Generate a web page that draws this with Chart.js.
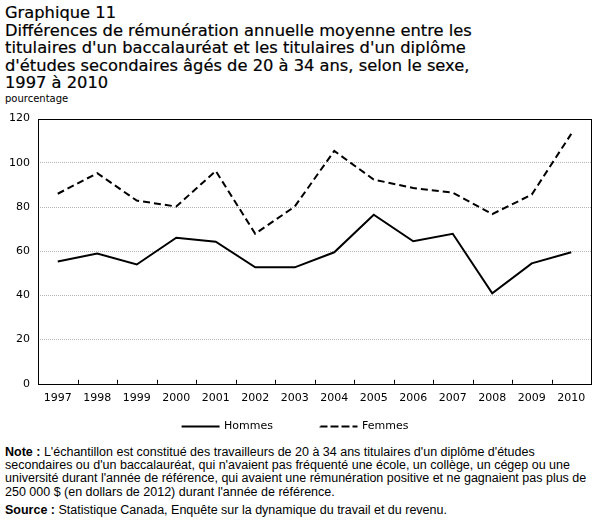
<!DOCTYPE html>
<html lang="fr">
<head>
<meta charset="utf-8">
<script src="https://cdn.jsdelivr.net/npm/chart.js@4"></script>
<style>
    body { margin: 0; background: #fff; width: 607px; height: 531px; position: relative; overflow: hidden; }
    .title { position: absolute; left: 5px; top: 4px; font-family: 'DejaVu Sans', sans-serif; font-size: 16.3px; line-height: 17.5px; color: #000; white-space: nowrap; -webkit-text-stroke: 0.2px #000; }
    .unit { position: absolute; left: 5px; top: 93px; font-family: 'DejaVu Sans', sans-serif; font-size: 10px; color: #000; }
    .chart-box { position: absolute; left: 0; top: 104px; width: 607px; height: 338px; }
    .notes { position: absolute; left: 5px; top: 446px; font-family: 'Liberation Sans', sans-serif; font-size: 12.5px; line-height: 13.2px; color: #000; white-space: nowrap; }
    .notes p { margin: 0 0 5px 0; }
</style>
</head>
<body>

<div class="title">Graphique 11<br>Différences de rémunération annuelle moyenne entre les<br>titulaires d'un baccalauréat et les titulaires d'un diplôme<br>d'études secondaires âgés de 20 à 34 ans, selon le sexe,<br>1997 à 2010</div>
<div class="unit">pourcentage</div>

<div class="chart-box"><canvas id="gapChart"></canvas></div>

<div class="notes">
    <p><b>Note :</b> L'échantillon est constitué des travailleurs de 20 à 34 ans titulaires d'un diplôme d'études<br>secondaires ou d'un baccalauréat, qui n'avaient pas fréquenté une école, un collège, un cégep ou une<br>université durant l'année de référence, qui avaient une rémunération positive et ne gagnaient pas plus de<br>250 000 $ (en dollars de 2012) durant l'année de référence.</p>
    <p><b>Source :</b> Statistique Canada, Enquête sur la dynamique du travail et du revenu.</p>
</div>

<script>
// --- data ---
const years = ['1997', '1998', '1999', '2000', '2001', '2002', '2003', '2004', '2005', '2006', '2007', '2008', '2009', '2010'];
const hommes = [55.3, 58.9, 54.0, 66.1, 64.3, 52.7, 52.7, 59.5, 76.5, 64.5, 67.9, 40.9, 54.5, 59.5];
const femmes = [86.0, 95.3, 82.9, 80.2, 96.3, 67.9, 80.2, 105.4, 92.4, 88.6, 86.5, 76.8, 85.6, 113.1];
const yTicks = [0, 20, 40, 60, 80, 100, 120];

const axisFont = { family: "'DejaVu Sans', sans-serif", size: 11 };

// black frame round the plot + small inward ticks between the years
const frame = {
    id: 'frame',
    afterDatasetsDraw(chart) {
        const { ctx, chartArea: a, scales: { x } } = chart;
        ctx.save();
        ctx.strokeStyle = '#000';
        ctx.lineWidth = 1;
        ctx.strokeRect(Math.round(a.left) + 0.5, Math.round(a.top) + 0.5, Math.round(a.right - a.left), Math.round(a.bottom - a.top));
        ctx.beginPath();
        for (let i = 1; i < years.length; i++) {
            const px = Math.round((x.getPixelForValue(i - 1) + x.getPixelForValue(i)) / 2) + 0.5;
            ctx.moveTo(px, a.bottom);
            ctx.lineTo(px, a.bottom - 4);
        }
        ctx.stroke();
        ctx.restore();
    }
};

new Chart(document.getElementById('gapChart'), {
    type: 'line',
    data: {
        labels: years,
        datasets: [{
            label: 'Hommes',
            data: hommes,
            borderColor: '#000',
            backgroundColor: '#000',
            borderWidth: 2,
            pointRadius: 0,
            tension: 0
        }, {
            label: 'Femmes',
            data: femmes,
            borderColor: '#000',
            backgroundColor: '#000',
            borderWidth: 2,
            borderDash: [7, 4],
            pointRadius: 0,
            tension: 0
        }]
    },
    options: {
        responsive: true,
        maintainAspectRatio: false,
        animation: false,
        layout: { padding: { left: 0, right: 16, top: 9, bottom: 0 } },
        plugins: {
            legend: {
                position: 'bottom',
                labels: {
                    boxWidth: 36,
                    boxHeight: 0.01,
                    color: '#000',
                    padding: 16,
                    font: { family: "'DejaVu Sans', sans-serif", size: 11 },
                    // pad the first entry so the gap between the two items matches the reference
                    generateLabels(chart) {
                        const items = Chart.defaults.plugins.legend.labels.generateLabels(chart);
                        items[0].text += '\u00a0'.repeat(9);
                        return items;
                    }
                }
            },
            tooltip: { enabled: false }
        },
        scales: {
            x: {
                offset: true,
                grid: { display: false },
                border: { display: false },
                ticks: { color: '#000', font: axisFont, padding: 0, maxRotation: 0, autoSkip: false }
            },
            y: {
                min: 0,
                max: 120,
                afterFit(scale) { scale.width = 38; },
                afterBuildTicks(scale) { scale.ticks = yTicks.map(v => ({ value: v })); },
                grid: {
                    color: ctx => (ctx.tick.value === 0 || ctx.tick.value === 120) ? 'rgba(0,0,0,0)' : '#b4b4b4',
                    drawTicks: false
                },
                border: { display: false, dash: [1, 1] },
                ticks: { color: '#000', font: axisFont, padding: 8 }
            }
        }
    },
    plugins: [frame]
});
</script>
</body>
</html>
